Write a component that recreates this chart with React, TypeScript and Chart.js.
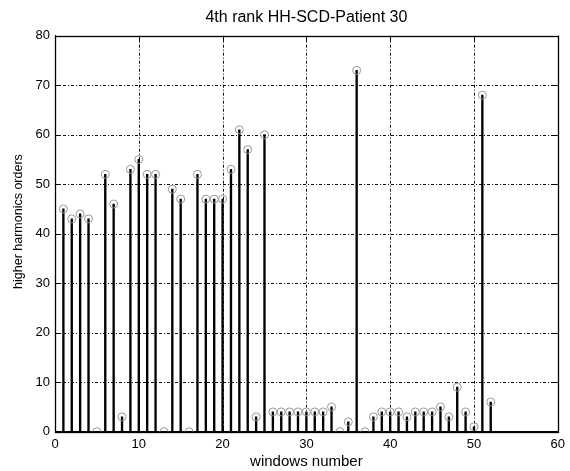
import React, { useEffect, useRef } from 'react';
import { Chart, registerables } from 'chart.js';

Chart.register(...registerables);

const chartTitle = '4th rank HH-SCD-Patient 30';
const xLabel = 'windows number';
const yLabel = 'higher harmonics orders';

const windowNumbers = [
  1, 2, 3, 4, 5, 6, 7, 8, 9, 10, 11, 12, 13, 14, 15, 16, 17, 18, 19, 20,
  21, 22, 23, 24, 25, 26, 27, 28, 29, 30, 31, 32, 33, 34, 35, 36, 37, 38, 39, 40,
  41, 42, 43, 44, 45, 46, 47, 48, 49, 50, 51, 52,
];
const harmonicOrders = [
  45, 43, 44, 43, 0, 52, 46, 3, 53, 55, 52, 52, 0, 49, 47, 0, 52, 47, 47, 47,
  53, 61, 57, 3, 60, 4, 4, 4, 4, 4, 4, 4, 5, 0, 2, 73, 0, 3, 4, 4,
  4, 3, 4, 4, 4, 5, 3, 9, 4, 1, 68, 6,
];
const xTicks = [0, 10, 20, 30, 40, 50, 60];
const yTicks = [0, 10, 20, 30, 40, 50, 60, 70, 80];

const FONT = '"Liberation Sans", Arial, Helvetica, sans-serif';

const gridPlugin = {
  id: 'matlabGrid',
  beforeDatasetsDraw(chart: any) {
    const { ctx, chartArea: a, scales } = chart;
    ctx.save();
    ctx.strokeStyle = '#111';
    ctx.lineWidth = 1;
    ctx.setLineDash([3, 2, 1, 2]);
    ctx.beginPath();
    xTicks.slice(1, -1).forEach((v) => {
      const px = Math.round(scales.x.getPixelForValue(v)) + 0.5;
      ctx.moveTo(px, a.bottom);
      ctx.lineTo(px, a.top);
    });
    yTicks.slice(1, -1).forEach((v) => {
      const py = Math.round(scales.y.getPixelForValue(v)) + 0.5;
      ctx.moveTo(a.left, py);
      ctx.lineTo(a.right, py);
    });
    ctx.stroke();
    ctx.restore();
  },
  afterDraw(chart: any) {
    const { ctx, chartArea: a, scales } = chart;
    const tl = 6;
    ctx.save();
    ctx.strokeStyle = '#000';
    ctx.lineWidth = 1;
    ctx.beginPath();
    xTicks.forEach((v) => {
      const px = Math.round(scales.x.getPixelForValue(v)) + 0.5;
      ctx.moveTo(px, a.bottom);
      ctx.lineTo(px, a.bottom - tl);
      ctx.moveTo(px, a.top);
      ctx.lineTo(px, a.top + tl);
    });
    yTicks.forEach((v) => {
      const py = Math.round(scales.y.getPixelForValue(v)) + 0.5;
      ctx.moveTo(a.left, py);
      ctx.lineTo(a.left + tl, py);
      ctx.moveTo(a.right, py);
      ctx.lineTo(a.right - tl, py);
    });
    ctx.stroke();
    ctx.lineWidth = 1.3;
    ctx.strokeRect(Math.round(a.left) + 0.5, Math.round(a.top) + 0.5, Math.round(a.right - a.left), Math.round(a.bottom - a.top));
    ctx.restore();
  },
};

export default function App() {
  const ref = useRef<HTMLCanvasElement | null>(null);

  useEffect(() => {
    if (!ref.current) return;
    const points = windowNumbers.map((x, i) => ({ x, y: harmonicOrders[i] }));
    const chart = new Chart(ref.current, {
      type: 'bar',
      data: {
        datasets: [
          {
            type: 'scatter',
            data: points,
            pointRadius: 4,
            pointBorderWidth: 1,
            borderColor: '#999',
            backgroundColor: 'rgba(0,0,0,0)',
            pointBackgroundColor: 'rgba(0,0,0,0)',
            pointBorderColor: '#999',
            order: 0,
          } as any,
          {
            type: 'bar',
            data: points,
            backgroundColor: '#000',
            barThickness: 1.7,
            order: 1,
          } as any,
        ],
      },
      options: {
        responsive: true,
        maintainAspectRatio: false,
        animation: false,
        layout: { padding: { left: 0, right: 11, top: 0, bottom: 0 } },
        plugins: {
          legend: { display: false },
          tooltip: { enabled: false },
          title: {
            display: true,
            fullSize: false,
            text: chartTitle,
            color: '#000',
            font: { family: FONT, size: 16, weight: 'normal' },
            padding: { top: 8, bottom: 8.5 },
          },
        },
        scales: {
          x: {
            type: 'linear',
            min: 0,
            max: 60,
            offset: false,
            afterFit: (s: any) => {
              s.height = 39.3;
            },
            ticks: {
              stepSize: 10,
              color: '#000',
              padding: 5,
              maxRotation: 0,
              font: { family: FONT, size: 13 },
            },
            grid: { display: false, drawTicks: false },
            border: { display: true, color: '#000', width: 1 },
            title: {
              display: true,
              text: xLabel,
              color: '#000',
              font: { family: FONT, size: 15 },
              padding: { top: 0, bottom: 0 },
            },
          },
          y: {
            type: 'linear',
            min: 0,
            max: 80,
            afterFit: (s: any) => {
              s.width = 55;
            },
            ticks: {
              stepSize: 10,
              color: '#000',
              padding: 5,
              font: { family: FONT, size: 13 },
            },
            grid: { display: false, drawTicks: false },
            border: { display: true, color: '#000', width: 1 },
            title: {
              display: true,
              text: ' '.repeat(7) + yLabel,
              color: '#000',
              font: { family: FONT, size: 12.5 },
              padding: { top: 11, bottom: 0 },
            },
          },
        },
      },
      plugins: [gridPlugin],
    });
    return () => chart.destroy();
  }, []);

  return (
    <div style={{ position: 'absolute', left: 0, top: 0, width: 570, height: 471, background: '#fff' }}>
      <canvas ref={ref} />
    </div>
  );
}
